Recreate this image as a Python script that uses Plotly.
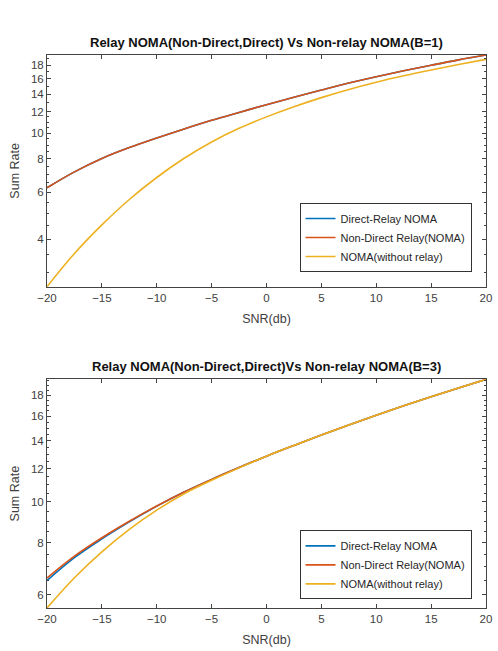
import math
import plotly.graph_objects as go

snr_db = [-20, -17.5, -15, -12.5, -10, -7.5, -5, -2.5, 0, 2.5, 5, 7.5, 10, 12.5, 15, 17.5, 20]

# B = 1
direct_b1 = [6.23, 7.15, 8.03, 8.82, 9.58, 10.36, 11.16, 11.95, 12.78, 13.63, 14.50, 15.40, 16.27, 17.12, 17.97, 18.82, 19.62]
nondirect_b1 = [6.23, 7.15, 8.03, 8.82, 9.58, 10.36, 11.16, 11.95, 12.78, 13.63, 14.50, 15.40, 16.27, 17.12, 17.97, 18.82, 19.62]
norelay_b1 = [2.65, 3.53, 4.52, 5.63, 6.81, 8.04, 9.26, 10.42, 11.5, 12.55, 13.58, 14.58, 15.52, 16.4, 17.24, 18.08, 18.9]

# B = 3
direct_b3 = [6.49, 7.36, 8.16, 8.96, 9.77, 10.56, 11.32, 12.08, 12.86, 13.64, 14.44, 15.26, 16.1, 16.96, 17.84, 18.72, 19.62]
nondirect_b3 = [6.58, 7.42, 8.21, 8.99, 9.78, 10.56, 11.32, 12.08, 12.86, 13.64, 14.44, 15.26, 16.1, 16.96, 17.84, 18.72, 19.62]
norelay_b3 = [5.58, 6.59, 7.60, 8.60, 9.56, 10.46, 11.26, 12.06, 12.86, 13.64, 14.44, 15.26, 16.1, 16.96, 17.84, 18.72, 19.62]

series_names = ["Direct-Relay NOMA", "Non-Direct Relay(NOMA)", "NOMA(without relay)"]
colors = ["#0072BD", "#D95319", "#EDB120"]

titles = ["Relay NOMA(Non-Direct,Direct) Vs Non-relay NOMA(B=1)",
          "Relay NOMA(Non-Direct,Direct)Vs Non-relay NOMA(B=3)"]
x_ticks = [-20, -15, -10, -5, 0, 5, 10, 15, 20]
y_ticks_top = [4, 6, 8, 10, 12, 14, 16, 18]
y_ticks_bottom = [6, 8, 10, 12, 14, 16, 18]
minor_top = [3, 3.5, 4.5, 5, 5.5, 6.5, 7, 7.5, 8.5, 9, 9.5, 10.5, 11, 11.5, 13, 15, 17, 19]
minor_bottom = [6.5, 7, 7.5, 8.5, 9, 9.5, 10.5, 11, 11.5, 12.5, 13, 13.5, 14.5, 15, 15.5, 16.5, 17, 17.5, 18.5, 19, 19.5]

fig = go.Figure()

font_family = "Liberation Sans, Arial, sans-serif"

for i, ys in enumerate([direct_b1, nondirect_b1, norelay_b1]):
    fig.add_trace(go.Scatter(x=snr_db, y=ys, mode="lines", name=series_names[i],
                             line=dict(color=colors[i], width=1.6, shape="spline", smoothing=1.0),
                             xaxis="x", yaxis="y", legend="legend"))
for i, ys in enumerate([direct_b3, nondirect_b3, norelay_b3]):
    fig.add_trace(go.Scatter(x=snr_db, y=ys, mode="lines", name=series_names[i],
                             line=dict(color=colors[i], width=1.6, shape="spline", smoothing=1.0),
                             xaxis="x2", yaxis="y2", legend="legend2"))

axis_color = "#444444"
tick_font = dict(family=font_family, size=11.5, color="#404040")


def xaxis_cfg(anchor):
    return dict(range=[-20, 20], tickvals=x_ticks, ticks="inside", ticklen=4,
                tickcolor=axis_color, showline=True, linecolor=axis_color, linewidth=1,
                mirror="ticks", showgrid=False, zeroline=False, anchor=anchor,
                tickfont=tick_font, ticklabeloverflow="allow",
                title=dict(text="SNR(db)", font=dict(family=font_family, size=12.5, color="#404040"),
                           standoff=11))


def yaxis_cfg(domain, lo, hi, ticks, minor):
    return dict(type="log", domain=domain, range=[math.log10(lo), math.log10(hi)],
                tickvals=ticks, ticktext=[str(t) for t in ticks], ticks="inside", ticklen=4,
                tickcolor=axis_color, showline=True, linecolor=axis_color, linewidth=1,
                mirror="ticks", showgrid=False, zeroline=False, tickfont=tick_font,
                minor=dict(tickmode="array", tickvals=minor, ticks="inside", ticklen=2,
                           tickcolor=axis_color, showgrid=False),
                title=dict(text="Sum Rate", font=dict(family=font_family, size=12.5, color="#404040"),
                           standoff=8))


legend_common = dict(xanchor="right", yanchor="middle", bgcolor="white", bordercolor="#333333",
                     borderwidth=1, font=dict(family=font_family, size=11, color="#262626"),
                     tracegroupgap=0)

fig.update_layout(
    width=498, height=651,
    margin=dict(l=47, r=6, t=55, b=43),
    paper_bgcolor="white", plot_bgcolor="white",
    xaxis=dict(domain=[0, 1], **xaxis_cfg("y")),
    yaxis=yaxis_cfg([0.581, 1.0], 2.65, 19.63, y_ticks_top, minor_top),
    xaxis2=dict(domain=[0, 1], **xaxis_cfg("y2")),
    yaxis2=yaxis_cfg([0.0, 0.4136], 5.58, 19.63, y_ticks_bottom, minor_bottom),
    legend=dict(x=0.967, y=0.670, **legend_common),
    legend2=dict(x=0.967, y=0.078, **legend_common),
    showlegend=True,
    annotations=[
        dict(text="<b>" + titles[0] + "</b>", xref="paper", yref="paper", x=0.5, y=1.0,
             yshift=3, xanchor="center", yanchor="bottom", showarrow=False,
             font=dict(family=font_family, size=13, color="#111111")),
        dict(text="<b>" + titles[1] + "</b>", xref="paper", yref="paper", x=0.5, y=0.4136,
             yshift=3, xanchor="center", yanchor="bottom", showarrow=False,
             font=dict(family=font_family, size=13, color="#111111")),
    ],
)

fig.write_html("out.html")
